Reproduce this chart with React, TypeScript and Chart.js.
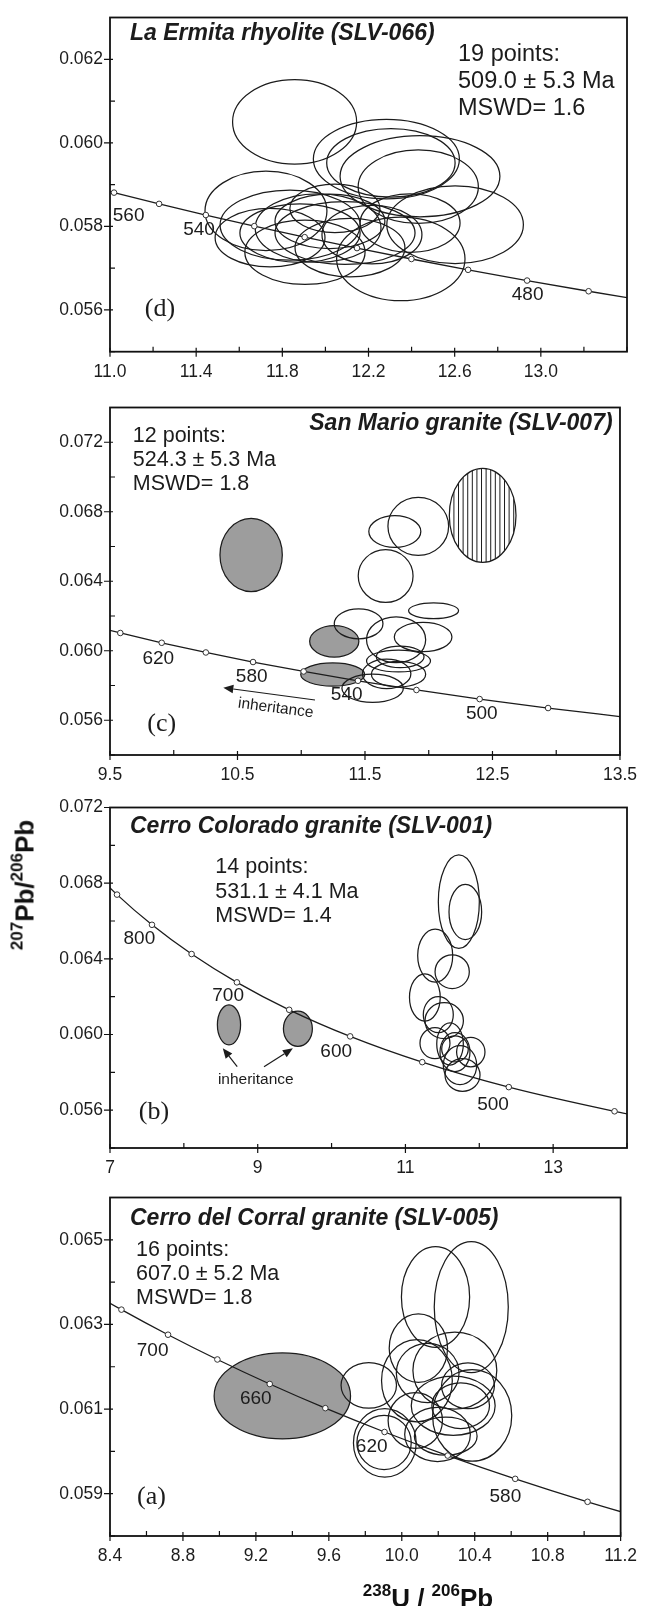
import React, { useEffect, useRef } from "react";
import { Chart, registerables } from "chart.js";
Chart.register(...registerables);

const SANS = '"Liberation Sans", Arial, Helvetica, sans-serif';
const SERIF = '"Liberation Serif", "Times New Roman", serif';
const INK = "#1c1c1c";

// ---------------- Panel (d) La Ermita rhyolite ----------------
const dAges = [570, 560, 550, 540, 530, 520, 510, 500, 490, 480, 470, 460];
const dConcX = [10.8169, 11.0187, 11.2279, 11.4448, 11.6699, 11.9037, 12.1466, 12.3993, 12.6623, 12.9362, 13.2218, 13.5199];
const dConcY = [0.059079, 0.058808, 0.058539, 0.058272, 0.058006, 0.057742, 0.05748, 0.057219, 0.05696, 0.056703, 0.056447, 0.056193];
// [238U/206Pb, 207Pb/206Pb, error x, error y]
const dOpen = [
  [11.857, 0.0605, 0.288, 0.00101],
  [12.283, 0.05961, 0.339, 0.00095],
  [12.304, 0.05952, 0.298, 0.00082],
  [12.439, 0.0592, 0.371, 0.00097],
  [12.431, 0.05895, 0.279, 0.00088],
  [12.602, 0.05804, 0.317, 0.00093],
  [11.724, 0.05837, 0.283, 0.00095],
  [12.35, 0.05722, 0.298, 0.001],
  [11.836, 0.05803, 0.325, 0.00084],
  [11.966, 0.05796, 0.292, 0.00082],
  [11.882, 0.05784, 0.279, 0.0007],
  [12.021, 0.05812, 0.255, 0.00065],
  [12.091, 0.05784, 0.325, 0.00075],
  [11.905, 0.05738, 0.279, 0.00077],
  [12.114, 0.05749, 0.255, 0.0007],
  [12.216, 0.0578, 0.232, 0.0007],
  [12.044, 0.05843, 0.209, 0.00058],
  [12.393, 0.05808, 0.232, 0.0007],
  [11.743, 0.05773, 0.255, 0.0007],
];
const dXTicks = [11.0, 11.2, 11.4, 11.6, 11.8, 12.0, 12.2, 12.4, 12.6, 12.8, 13.0, 13.2, 13.4];
const dXLabels = [11.0, 11.4, 11.8, 12.2, 12.6, 13.0];
const dYTicks = [0.055, 0.056, 0.057, 0.058, 0.059, 0.06, 0.061, 0.062, 0.063];
const dYLabels = [0.056, 0.058, 0.06, 0.062];

// ---------------- Panel (c) San Mario granite ----------------
const cAges = [660, 640, 620, 600, 580, 560, 540, 520, 500, 480, 460];
const cConcX = [9.2759, 9.5808, 9.9055, 10.2518, 10.622, 11.0187, 11.4448, 11.9037, 12.3993, 12.9362, 13.5199];
const cConcY = [0.061593, 0.061022, 0.060458, 0.059901, 0.059351, 0.058808, 0.058272, 0.057742, 0.057219, 0.056703, 0.056193];
const cOpen = [
  [11.734, 0.06686, 0.204, 0.00091],
  [11.918, 0.06716, 0.238, 0.00167],
  [11.662, 0.0643, 0.215, 0.00152],
  [12.038, 0.0623, 0.196, 0.00045],
  [11.45, 0.06155, 0.191, 0.00086],
  [11.744, 0.06063, 0.232, 0.00132],
  [11.956, 0.06079, 0.226, 0.00084],
  [11.776, 0.05965, 0.187, 0.00062],
  [11.763, 0.05941, 0.251, 0.00063],
  [11.67, 0.05867, 0.19, 0.00085],
  [11.763, 0.05865, 0.213, 0.00074],
  [11.56, 0.05784, 0.241, 0.00081],
];
const cInherited = [
  [10.607, 0.06551, 0.2445, 0.00211],
  [11.259, 0.06054, 0.193, 0.0009],
  [11.247, 0.05863, 0.251, 0.00067],
];
const cExcluded = [[12.423, 0.06779, 0.2615, 0.00271]];
const cXTicks = [9.5, 10.0, 10.5, 11.0, 11.5, 12.0, 12.5, 13.0, 13.5];
const cXLabels = [9.5, 10.5, 11.5, 12.5, 13.5];
const cYTicks = [0.054, 0.056, 0.058, 0.06, 0.062, 0.064, 0.066, 0.068, 0.07, 0.072, 0.074];
const cYLabels = [0.056, 0.06, 0.064, 0.068, 0.072];

// ---------------- Panel (b) Cerro Colorado granite ----------------
const bAges = [900, 850, 800, 750, 700, 650, 600, 550, 500, 450, 440];
const bConcX = [6.6743, 7.095, 7.5683, 8.1049, 8.7182, 9.426, 10.2518, 11.2279, 12.3993, 13.8312, 14.1566];
const bConcY = [0.069042, 0.067395, 0.065799, 0.064254, 0.062757, 0.061306, 0.059901, 0.058539, 0.057219, 0.05594, 0.055689];
const bOpen = [
  [11.723, 0.06702, 0.2776, 0.00247],
  [11.811, 0.06648, 0.221, 0.00146],
  [11.403, 0.06417, 0.237, 0.0014],
  [11.633, 0.06332, 0.232, 0.00089],
  [11.263, 0.06196, 0.208, 0.00125],
  [11.445, 0.06105, 0.203, 0.00095],
  [11.525, 0.06073, 0.26, 0.00095],
  [11.4, 0.05954, 0.203, 0.00082],
  [11.604, 0.0595, 0.18, 0.00112],
  [11.885, 0.05907, 0.192, 0.00078],
  [11.671, 0.05907, 0.203, 0.00103],
  [11.739, 0.05838, 0.226, 0.00103],
  [11.773, 0.05786, 0.237, 0.00086],
  [11.671, 0.05924, 0.18, 0.00069],
];
const bInherited = [
  [8.611, 0.06051, 0.157, 0.00106],
  [9.544, 0.0603, 0.196, 0.00093],
];
const bXTicks = [7, 8, 9, 10, 11, 12, 13, 14];
const bXLabels = [7, 9, 11, 13];
const bYTicks = [0.054, 0.056, 0.058, 0.06, 0.062, 0.064, 0.066, 0.068, 0.07, 0.072];
const bYLabels = [0.056, 0.06, 0.064, 0.068, 0.072];

// ---------------- Panel (a) Cerro del Corral granite ----------------
const aAges = [740, 720, 700, 680, 660, 640, 620, 600, 580, 560, 540];
const aConcX = [8.2209, 8.4627, 8.7182, 8.9888, 9.2759, 9.5808, 9.9055, 10.2518, 10.622, 11.0187, 11.4448];
const aConcY = [0.063951, 0.06335, 0.062757, 0.062172, 0.061593, 0.061022, 0.060458, 0.059901, 0.059351, 0.058808, 0.058272];
const aOpen = [
  [10.185, 0.06365, 0.187, 0.00119],
  [10.381, 0.06341, 0.203, 0.00155],
  [9.819, 0.06156, 0.152, 0.00054],
  [10.091, 0.06244, 0.16, 0.00081],
  [10.291, 0.06191, 0.23, 0.00091],
  [10.083, 0.06167, 0.194, 0.00097],
  [10.142, 0.06185, 0.172, 0.0007],
  [10.386, 0.06085, 0.217, 0.00108],
  [9.907, 0.0602, 0.172, 0.00081],
  [9.903, 0.06021, 0.149, 0.00064],
  [10.074, 0.06073, 0.149, 0.00066],
  [10.196, 0.0604, 0.18, 0.00064],
  [10.282, 0.06108, 0.23, 0.0007],
  [10.241, 0.06036, 0.172, 0.00045],
  [10.323, 0.06108, 0.158, 0.00054],
  [10.363, 0.06155, 0.145, 0.00054],
];
const aInherited = [[9.345, 0.06131, 0.374, 0.001015]];
const aXTicks = [8.4, 8.6, 8.8, 9.0, 9.2, 9.4, 9.6, 9.8, 10.0, 10.2, 10.4, 10.6, 10.8, 11.0, 11.2];
const aXLabels = [8.4, 8.8, 9.2, 9.6, 10.0, 10.4, 10.8, 11.2];
const aYTicks = [0.058, 0.059, 0.06, 0.061, 0.062, 0.063, 0.064, 0.065, 0.066];
const aYLabels = [0.059, 0.061, 0.063, 0.065];

type Txt = { t: string; x: number; y: number; f: string; a?: CanvasTextAlign; r?: number };
type Arrow = [number, number, number, number];

const TITLE = `italic bold 23px ${SANS}`;
const AGE = `19px ${SANS}`;
const LET = `26px ${SERIF}`;
const SMALL = `15.5px ${SANS}`;
const TICK_SIZE = 17.5;

const panels = [
  {
    top: 0, height: 390, chartTop: 9.3, chartBottom: 351.7,
    xMin: 11.0, xMax: 13.4, yMin: 0.055, yMax: 0.063,
    xTicks: dXTicks, xLabels: dXLabels, xDec: 1, yTicks: dYTicks, yLabels: dYLabels,
    ages: dAges, concX: dConcX, concY: dConcY, open: dOpen, grey: [] as number[][], hatch: [] as number[][],
    texts: [
      { t: "La Ermita rhyolite (SLV-066)", x: 130, y: 33.3, f: TITLE },
      { t: "19 points:", x: 458, y: 55, f: `23.5px ${SANS}` },
      { t: "509.0 ± 5.3 Ma", x: 458, y: 81.7, f: `23.5px ${SANS}` },
      { t: "MSWD= 1.6", x: 458, y: 108.3, f: `23.5px ${SANS}` },
      { t: "560", x: 128.6, y: 216, f: AGE, a: "center" },
      { t: "540", x: 199, y: 230, f: AGE, a: "center" },
      { t: "480", x: 527.6, y: 295, f: AGE, a: "center" },
      { t: "(d)", x: 160, y: 309, f: LET, a: "center" },
    ] as Txt[],
    arrows: [] as Arrow[],
  },
  {
    top: 390, height: 400, chartTop: 396.7, chartBottom: 755,
    xMin: 9.5, xMax: 13.5, yMin: 0.054, yMax: 0.074,
    xTicks: cXTicks, xLabels: cXLabels, xDec: 1, yTicks: cYTicks, yLabels: cYLabels,
    ages: cAges, concX: cConcX, concY: cConcY, open: cOpen, grey: cInherited, hatch: cExcluded,
    texts: [
      { t: "San Mario granite (SLV-007)", x: 612.6, y: 423.3, f: TITLE, a: "right" },
      { t: "12 points:", x: 132.8, y: 436, f: `21.5px ${SANS}` },
      { t: "524.3 ± 5.3 Ma", x: 132.8, y: 460, f: `21.5px ${SANS}` },
      { t: "MSWD= 1.8", x: 132.8, y: 484, f: `21.5px ${SANS}` },
      { t: "620", x: 158.3, y: 659, f: AGE, a: "center" },
      { t: "580", x: 251.7, y: 676.7, f: AGE, a: "center" },
      { t: "540", x: 346.7, y: 695, f: AGE, a: "center" },
      { t: "500", x: 481.8, y: 713.3, f: AGE, a: "center" },
      { t: "(c)", x: 161.7, y: 724, f: LET, a: "center" },
      { t: "inheritance", x: 275.7, y: 708.3, f: SMALL, a: "center", r: 7.5 },
    ] as Txt[],
    arrows: [[315, 700, 223.3, 687.7]] as Arrow[],
  },
  {
    top: 790, height: 390, chartTop: 800, chartBottom: 1148,
    xMin: 7, xMax: 14, yMin: 0.054, yMax: 0.072,
    xTicks: bXTicks, xLabels: bXLabels, xDec: 0, yTicks: bYTicks, yLabels: bYLabels,
    ages: bAges, concX: bConcX, concY: bConcY, open: bOpen, grey: bInherited, hatch: [] as number[][],
    texts: [
      { t: "Cerro Colorado granite (SLV-001)", x: 130, y: 826.7, f: TITLE },
      { t: "14 points:", x: 215.3, y: 866.7, f: `21.5px ${SANS}` },
      { t: "531.1 ± 4.1 Ma", x: 215.3, y: 891.7, f: `21.5px ${SANS}` },
      { t: "MSWD= 1.4", x: 215.3, y: 916, f: `21.5px ${SANS}` },
      { t: "800", x: 139.4, y: 938.3, f: AGE, a: "center" },
      { t: "700", x: 228.1, y: 996, f: AGE, a: "center" },
      { t: "600", x: 336.2, y: 1051.7, f: AGE, a: "center" },
      { t: "500", x: 493, y: 1105, f: AGE, a: "center" },
      { t: "(b)", x: 154, y: 1112, f: LET, a: "center" },
      { t: "inheritance", x: 255.8, y: 1080, f: SMALL, a: "center" },
    ] as Txt[],
    arrows: [[237.2, 1066.7, 222.8, 1048.3], [264, 1066.7, 292.9, 1048.3]] as Arrow[],
  },
  {
    top: 1180, height: 426, chartTop: 1191.7, chartBottom: 1536,
    xMin: 8.4, xMax: 11.2, yMin: 0.058, yMax: 0.066,
    xTicks: aXTicks, xLabels: aXLabels, xDec: 1, yTicks: aYTicks, yLabels: aYLabels,
    ages: aAges, concX: aConcX, concY: aConcY, open: aOpen, grey: aInherited, hatch: [] as number[][],
    texts: [
      { t: "Cerro del Corral granite (SLV-005)", x: 130, y: 1218.3, f: TITLE },
      { t: "16 points:", x: 136, y: 1250, f: `21.5px ${SANS}` },
      { t: "607.0 ± 5.2 Ma", x: 136, y: 1274, f: `21.5px ${SANS}` },
      { t: "MSWD= 1.8", x: 136, y: 1298.3, f: `21.5px ${SANS}` },
      { t: "700", x: 152.6, y: 1350.7, f: AGE, a: "center" },
      { t: "660", x: 255.8, y: 1398.3, f: AGE, a: "center" },
      { t: "620", x: 371.7, y: 1446.7, f: AGE, a: "center" },
      { t: "580", x: 505.4, y: 1496.7, f: AGE, a: "center" },
      { t: "(a)", x: 151.5, y: 1497, f: LET, a: "center" },
    ] as Txt[],
    arrows: [] as Arrow[],
  },
];

const WIDTH = 647;
const AXIS_LEFT = 110;
const AXIS_RIGHT = 627;

const near = (list: number[], v: number) => list.some((m) => Math.abs(m - v) < 1e-9);

function Panel({ p }: { p: (typeof panels)[number] }) {
  const ref = useRef<HTMLCanvasElement>(null);
  useEffect(() => {
    const canvas = ref.current;
    if (!canvas) return;
    const axisH = p.top + p.height - p.chartBottom;
    const padTop = p.chartTop - p.top;

    const ellipse = (ctx: CanvasRenderingContext2D, xs: any, ys: any, e: number[]) => {
      const cx = xs.getPixelForValue(e[0]);
      const cy = ys.getPixelForValue(e[1]);
      const rx = Math.abs(xs.getPixelForValue(e[0] + e[2]) - cx);
      const ry = Math.abs(ys.getPixelForValue(e[1] + e[3]) - cy);
      ctx.beginPath();
      ctx.ellipse(cx, cy, rx, ry, 0, 0, Math.PI * 2);
      return { cx, cy, rx, ry };
    };

    const decor = {
      id: "decor",
      beforeDatasetsDraw(chart: any) {
        const { ctx, chartArea: ca } = chart;
        const xs = chart.scales.x, ys = chart.scales.y;
        ctx.save();
        ctx.beginPath();
        ctx.rect(ca.left, ca.top, ca.right - ca.left, ca.bottom - ca.top);
        ctx.clip();
        ctx.lineWidth = 1.25;
        ctx.strokeStyle = INK;
        p.grey.forEach((e) => {
          ellipse(ctx, xs, ys, e);
          ctx.fillStyle = "#9d9d9d";
          ctx.fill();
          ctx.stroke();
        });
        p.hatch.forEach((e) => {
          const g = ellipse(ctx, xs, ys, e);
          ctx.save();
          ctx.clip();
          ctx.lineWidth = 1;
          ctx.beginPath();
          for (let x = g.cx - g.rx; x <= g.cx + g.rx; x += 4.6) {
            ctx.moveTo(x, g.cy - g.ry);
            ctx.lineTo(x, g.cy + g.ry);
          }
          ctx.stroke();
          ctx.restore();
          ellipse(ctx, xs, ys, e);
          ctx.stroke();
        });
        p.open.forEach((e) => {
          ellipse(ctx, xs, ys, e);
          ctx.stroke();
        });
        ctx.restore();
      },
      afterDraw(chart: any) {
        const { ctx, chartArea: ca } = chart;
        const xs = chart.scales.x, ys = chart.scales.y;
        ctx.save();
        ctx.strokeStyle = "#111";
        ctx.lineWidth = 1.2;
        ctx.beginPath();
        xs.ticks.forEach((t: any) => {
          const px = xs.getPixelForValue(t.value);
          const major = near(p.xLabels, t.value);
          ctx.moveTo(px, ca.bottom - (major ? 4 : 5));
          ctx.lineTo(px, ca.bottom + (major ? 5 : 0));
        });
        ys.ticks.forEach((t: any) => {
          const py = ys.getPixelForValue(t.value);
          const major = near(p.yLabels, t.value);
          ctx.moveTo(ca.left - (major ? 6 : 0), py);
          ctx.lineTo(ca.left + (major ? 3 : 5), py);
        });
        ctx.stroke();
        ctx.lineWidth = 1.8;
        ctx.strokeRect(ca.left, ca.top, ca.right - ca.left, ca.bottom - ca.top);
        // arrows
        ctx.fillStyle = INK;
        ctx.strokeStyle = INK;
        ctx.lineWidth = 1.2;
        p.arrows.forEach(([x1, y1, x2, y2]) => {
          const a1 = y1 - p.top, a2 = y2 - p.top;
          const ang = Math.atan2(a2 - a1, x2 - x1);
          const L = 10, W = 4.2;
          const bx = x2 - L * Math.cos(ang), by = a2 - L * Math.sin(ang);
          ctx.beginPath();
          ctx.moveTo(x1, a1);
          ctx.lineTo(bx, by);
          ctx.stroke();
          ctx.beginPath();
          ctx.moveTo(x2, a2);
          ctx.lineTo(bx + W * Math.sin(ang), by - W * Math.cos(ang));
          ctx.lineTo(bx - W * Math.sin(ang), by + W * Math.cos(ang));
          ctx.closePath();
          ctx.fill();
        });
        // texts
        p.texts.forEach((tx) => {
          ctx.save();
          ctx.font = tx.f;
          ctx.fillStyle = INK;
          ctx.textAlign = tx.a || "left";
          ctx.textBaseline = "middle";
          ctx.translate(tx.x, tx.y - p.top);
          if (tx.r) ctx.rotate((tx.r * Math.PI) / 180);
          ctx.fillText(tx.t, 0, 0);
          ctx.restore();
        });
        ctx.restore();
      },
    };

    const chart = new Chart(canvas, {
      type: "scatter",
      data: {
        datasets: [
          {
            label: "Concordia",
            data: p.concX.map((x, i) => ({ x, y: p.concY[i] })),
            showLine: true,
            borderColor: INK,
            borderWidth: 1.3,
            cubicInterpolationMode: "monotone",
            pointRadius: 2.8,
            pointBackgroundColor: "#ffffff",
            pointBorderColor: "#333",
            pointBorderWidth: 1,
            clip: 0,
          } as any,
        ],
      },
      options: {
        responsive: false,
        animation: false,
        events: [],
        layout: { padding: { top: padTop, right: WIDTH - AXIS_RIGHT, bottom: 0, left: 0 } },
        plugins: { legend: { display: false }, tooltip: { enabled: false } },
        scales: {
          x: {
            type: "linear",
            min: p.xMin,
            max: p.xMax,
            afterBuildTicks: (s: any) => { s.ticks = p.xTicks.map((v) => ({ value: v })); },
            afterFit: (s: any) => { s.height = axisH; },
            grid: { display: false, drawTicks: false },
            border: { display: false },
            ticks: {
              autoSkip: false,
              maxRotation: 0,
              padding: 10,
              color: INK,
              font: { family: SANS, size: TICK_SIZE },
              callback: (v: any) => (near(p.xLabels, Number(v)) ? Number(v).toFixed(p.xDec) : ""),
            },
          },
          y: {
            type: "linear",
            min: p.yMin,
            max: p.yMax,
            afterBuildTicks: (s: any) => { s.ticks = p.yTicks.map((v) => ({ value: v })); },
            afterFit: (s: any) => { s.width = AXIS_LEFT; },
            grid: { display: false, drawTicks: false },
            border: { display: false },
            ticks: {
              autoSkip: false,
              padding: 7,
              color: INK,
              font: { family: SANS, size: TICK_SIZE },
              callback: (v: any) => (near(p.yLabels, Number(v)) ? Number(v).toFixed(3) : ""),
            },
          },
        },
      } as any,
      plugins: [decor],
    });
    return () => chart.destroy();
  }, [p]);
  return (
    <canvas
      ref={ref}
      width={WIDTH}
      height={p.height}
      style={{ position: "absolute", left: 0, top: p.top, display: "block" }}
    />
  );
}

export default function App() {
  const supStyle: React.CSSProperties = { fontSize: 17, verticalAlign: "11px", lineHeight: 1 };
  return (
    <div
      style={{
        position: "absolute",
        left: 0,
        top: 0,
        width: WIDTH,
        height: 1606,
        overflow: "hidden",
        background: "#fff",
      }}
    >
      {panels.map((p, i) => (
        <Panel key={i} p={p} />
      ))}
      <div
        style={{
          position: "absolute",
          left: 23,
          top: 885,
          transform: "translate(-50%, -50%) rotate(-90deg)",
          font: `bold 26px ${SANS}`,
          lineHeight: 1,
          whiteSpace: "nowrap",
          color: "#111",
        }}
      >
        <span style={supStyle}>207</span>Pb/<span style={supStyle}>206</span>Pb
      </div>
      <div
        style={{
          position: "absolute",
          left: 428,
          top: 1582,
          transform: "translateX(-50%)",
          font: `bold 26px ${SANS}`,
          lineHeight: 1,
          whiteSpace: "nowrap",
          color: "#111",
        }}
      >
        <span style={supStyle}>238</span>U / <span style={supStyle}>206</span>Pb
      </div>
    </div>
  );
}
